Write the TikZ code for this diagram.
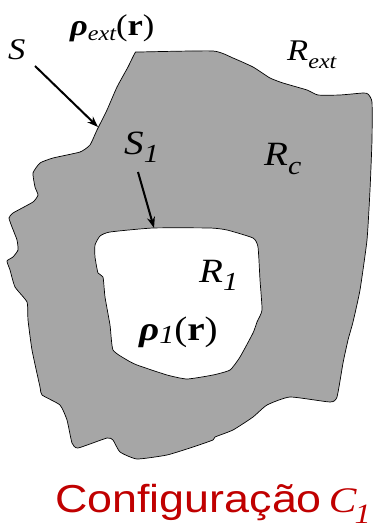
\documentclass[tikz,border=0pt]{standalone}
\usepackage{fontspec}
\setmainfont[FakeStretch=1.15]{Liberation Serif}
\newfontfamily\capfont[FakeStretch=1.15]{Liberation Sans}
\usetikzlibrary{arrows.meta}
\definecolor{regiongray}{RGB}{166,166,166}
\definecolor{capred}{RGB}{192,0,0}
\newcommand\lsub[3]{\raisebox{-#1}{\fontsize{#2}{#2}\selectfont\itshape #3}}

\begin{document}
\begin{tikzpicture}[x=1pt, y=-1pt,
  region/.style={draw=black, line width=0.7pt, line join=round},
  lbl/.style={anchor=base west, inner sep=0, font=\fontsize{30}{30}\selectfont},
  biglbl/.style={lbl, font=\fontsize{34}{34}\selectfont},
  arrow/.style={-{Stealth[length=11pt, width=8pt]}, line width=2pt}]
  \useasboundingbox (0,0) rectangle (373,529);

  % outer surface S, region R_c
  \draw[region, fill=regiongray] plot[smooth cycle, tension=0.3] coordinates {
    (135,53) (140,52) (213,51) (233,58) (253,67) (270,78) (283,83) (307,90)
    (318,95) (340,95) (363,93) (368,94) (372,102) (372,140) (370,190) (367,240)
    (360,290) (353,322) (348,340) (343,363) (337,397) (330,402) (290,397)
    (267,405) (253,417) (233,430) (215,437) (213,440) (193,447) (167,455)
    (137,459) (120,452) (113,440) (107,438) (78,448) (72,443) (67,420)
    (60,405) (42,395) (40,387) (32,350) (28,320) (27,302) (15,287) (10,270)
    (7,261) (13,257) (18,250) (17,240) (12,227) (9,218) (13,213) (33,202)
    (38,195) (35,187) (33,173) (40,163) (53,158) (80,152) (90,145) (97,130)
    (107,110) (117,87) (128,67)};
  % inner surface S_1, region R_1
  \draw[region, fill=white] plot[smooth cycle, tension=0.3] coordinates {
    (100,236) (110,232) (153,228) (210,228) (227,230) (253,238) (258,247)
    (260,280) (262,310) (257,322) (253,333) (240,357) (230,370) (213,375)
    (187,379) (167,375) (137,365) (127,360) (113,350) (110,325) (105,297)
    (103,277) (98,273) (95,257) (95,245)};

  \node[lbl] (s) at (8,60) {\itshape S};
  \node[lbl] (rhoext) at (70,36) {{\bfseries\itshape ρ}\lsub{5pt}{21}{ext}(\textbf{r})};
  \node[lbl] (rext) at (287,61) {\itshape R\lsub{8pt}{21}{ext}};
  \node[biglbl] (s1) at (124,155) {\itshape S\lsub{8pt}{26}{1}};
  \node[biglbl] (rc) at (264,166) {\itshape R\lsub{9pt}{26}{c}};
  \node[biglbl] (r1) at (199,282) {\itshape R\lsub{8pt}{26}{1}};
  \node[biglbl] (rho1) at (139,340) {{\bfseries\itshape ρ}\lsub{3pt}{26}{1}(\textbf{r})};
  \node[anchor=base west, inner sep=0, text=capred] (cap) at (55,512)
    {\fontsize{39}{39}\selectfont\capfont Configuração\hspace{7pt}%
     {\fontsize{36}{36}\selectfont\rmfamily\itshape C}\kern-2pt\lsub{11pt}{28}{\rmfamily 1}};

  \coordinate (sfoot) at (35,66);
  \coordinate (stip) at (98,127);
  \coordinate (s1foot) at (138,172);
  \coordinate (s1tip) at (154,228);
  \draw[arrow] (sfoot) -- (stip);
  \draw[arrow] (s1foot) -- (s1tip);
\end{tikzpicture}
\end{document}
